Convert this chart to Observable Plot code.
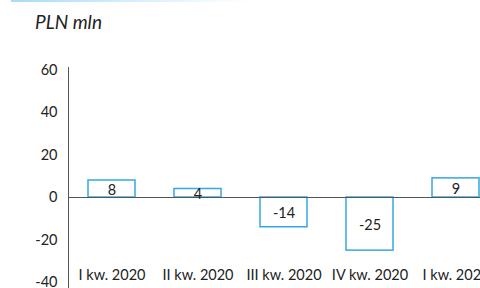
<!DOCTYPE html>
<html>
<head>
<meta charset="utf-8">
<script src="https://cdn.jsdelivr.net/npm/d3@7"></script>
<script src="https://cdn.jsdelivr.net/npm/@observablehq/plot@0.6"></script>
<style>
  html, body { margin: 0; padding: 0; background: #fff; overflow: hidden; width: 480px; height: 288px; }
  #wrap { position: relative; width: 480px; height: 288px; overflow: hidden; }
  #topline { position: absolute; left: 11px; top: 0; width: 240px; height: 2px;
    background: linear-gradient(to right, #a6dcf6, #d6eefb 50%, rgba(255,255,255,0)); }
  #title { position: absolute; left: 35px; top: 10px; font-family: Lato, sans-serif;
    font-style: italic; font-size: 19px; line-height: 24px; color: #222; z-index: 2; }
  #chart svg { display: block; overflow: hidden; }
</style>
</head>
<body>
<div id="wrap">
  <div id="topline"></div>
  <div id="title">PLN mln</div>
  <div id="chart"></div>
</div>
<script>
const categories = ["I kw. 2020", "II kw. 2020", "III kw. 2020", "IV kw. 2020", "I kw. 2021"];
const values = [8, 4, -14, -25, 9];
const yTicks = [-40, -20, 0, 20, 40, 60];

const data = categories.map((c, i) => ({cat: c, value: values[i]}));
const font = "Lato, sans-serif";

const chart = Plot.plot({
  width: 480,
  height: 288,
  marginLeft: 68,
  marginRight: 0,
  marginTop: 67,
  marginBottom: 0,
  style: {fontFamily: font, fontSize: "14.5px", color: "#222", background: "transparent"},
  x: {domain: categories, range: [49.3, 518], padding: 0.45, axis: null, label: null},
  y: {domain: [-40, 60], range: [282, 69.5], axis: null, label: null},
  marks: [
    Plot.frame({anchor: "left", stroke: "#555", strokeWidth: 1}),
    Plot.barY(data, {x: "cat", y1: 0, y2: "value", fill: "white", stroke: "#35a8e0", strokeWidth: 1.5}),
    Plot.ruleY([0], {stroke: "#555", strokeWidth: 1}),
    Plot.text(data, {x: "cat", y: d => d.value / 2, text: d => String(d.value), fontSize: 14.5, fill: "#222", dy: 1}),
    Plot.axisY({ticks: yTicks, tickSize: 0, tickPadding: 11, fontSize: 14.5, label: null, tickFormat: d => String(d)}),
    Plot.axisX({anchor: "bottom", tickSize: 0, tickPadding: 0, dy: -19, fontSize: 14.5, label: null})
  ]
});
document.getElementById("chart").appendChild(chart);
</script>
</body>
</html>
